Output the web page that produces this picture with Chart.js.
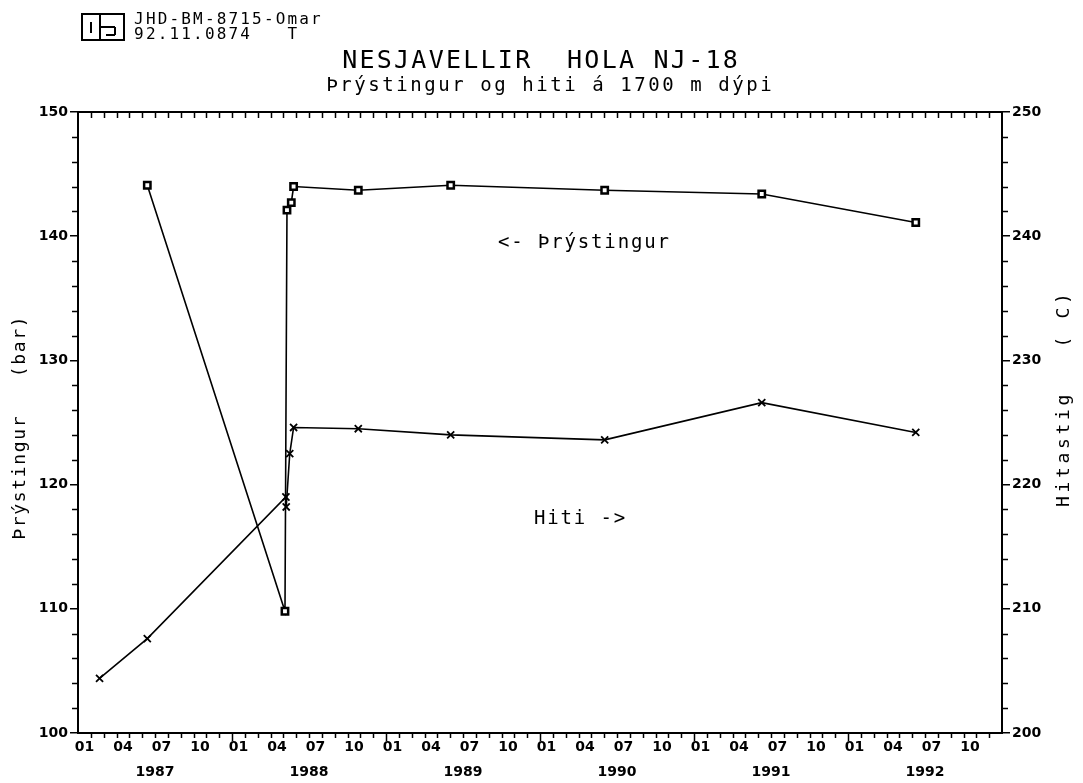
<!DOCTYPE html>
<html><head><meta charset="utf-8">
<script src="https://cdn.jsdelivr.net/npm/chart.js@4.4.1/dist/chart.umd.min.js"></script>
<style>html,body{margin:0;padding:0;background:#fff;}</style>
</head><body>
<canvas id="c" width="1083" height="783"></canvas>
<script>
// ---- data (decimal years) ----
const pressureDates  = [1987.45, 1988.344, 1988.357, 1988.385, 1988.40, 1988.82, 1989.42, 1990.42, 1991.44, 1992.44];
const pressureValues = [144.1,   109.8,    142.1,    142.7,    144.0,   143.7,   144.1,   143.7,   143.4,   141.1];
const tempDates  = [1987.14, 1987.45, 1988.35, 1988.352, 1988.375, 1988.40, 1988.82, 1989.42, 1990.42, 1991.44, 1992.44];
const tempValues = [204.4,   207.6,   219.0,   218.2,    222.5,    224.6,   224.5,   224.0,   223.6,   226.6,   224.2];
const leftTicks  = [100, 110, 120, 130, 140, 150];
const rightTicks = [200, 210, 220, 230, 240, 250];
const monthLabels = ['01', '04', '07', '10'];
const yearLabels  = ['1987', '1988', '1989', '1990', '1991', '1992'];
const titleText = 'NESJAVELLIR  HOLA NJ-18';
const subtitleText = 'Þrýstingur og hiti á 1700 m dýpi';
const headerLine1 = 'JHD-BM-8715-Omar';
const headerLine2 = '92.11.0874   T';
const leftAxisTitle = 'Þrýstingur   (bar)';
const rightAxisTitle = 'Hitastig   ( C)';
const pressureNote = '<- Þrýstingur';
const tempNote = 'Hiti ->';

const MONO = "'DejaVu Sans Mono', monospace";
const TICKFONT = "bold 14px 'DejaVu Sans', sans-serif";

function drawMono(ctx, text, x0, y, pitch, font) {
  ctx.font = font;
  ctx.textAlign = 'center';
  ctx.textBaseline = 'middle';
  Array.from(text).forEach((ch, i) => ctx.fillText(ch, x0 + (i + 0.5) * pitch, y));
}

const decor = {
  id: 'decor',
  beforeDraw(chart) {
    const ctx = chart.ctx;
    ctx.save(); ctx.fillStyle = '#fff'; ctx.fillRect(0, 0, chart.width, chart.height); ctx.restore();
  },
  afterDraw(chart) {
    const ctx = chart.ctx;
    const { left, right, top, bottom } = chart.chartArea;
    const xs = chart.scales.x, ys = chart.scales.y, ys2 = chart.scales.y2;
    ctx.save();
    ctx.strokeStyle = '#000'; ctx.fillStyle = '#000';
    // frame top & bottom
    ctx.lineWidth = 2;
    ctx.beginPath();
    ctx.moveTo(left - 1, top); ctx.lineTo(right + 1, top);
    ctx.moveTo(left - 1, bottom); ctx.lineTo(right + 1, bottom);
    ctx.stroke();
    // month ticks
    ctx.lineWidth = 1.5;
    ctx.beginPath();
    for (let m = 1; m < 72; m++) {
      const px = Math.round(xs.getPixelForValue(1987 + m / 12)) + 0.5;
      const len = (m % 12 === 0) ? 8 : 5;
      ctx.moveTo(px, bottom); ctx.lineTo(px, bottom + len);
      ctx.moveTo(px, top); ctx.lineTo(px, top + 6);
    }
    ctx.stroke();
    // minor y ticks
    ctx.beginPath();
    for (let v = 102; v < 150; v += 2) {
      if (v % 10 === 0) continue;
      const py = Math.round(ys.getPixelForValue(v)) + 0.5;
      ctx.moveTo(left - 6, py); ctx.lineTo(left, py);
    }
    for (let v = 202; v < 250; v += 2) {
      if (v % 10 === 0) continue;
      const py = Math.round(ys2.getPixelForValue(v)) + 0.5;
      ctx.moveTo(right, py); ctx.lineTo(right + 6, py);
    }
    ctx.stroke();
    // x labels
    ctx.font = TICKFONT; ctx.textAlign = 'center'; ctx.textBaseline = 'middle';
    yearLabels.forEach((yl, yi) => {
      const yr = 1987 + yi;
      monthLabels.forEach((ml, mi) => {
        ctx.fillText(ml, xs.getPixelForValue(yr + (mi * 3 + 0.5) / 12), bottom + 14);
      });
      ctx.fillText(yl, xs.getPixelForValue(yr + 0.5), bottom + 39);
    });
    // titles
    const tw = 17.3 * titleText.length;
    drawMono(ctx, titleText, 540 - tw / 2, 61, 17.3, '25px ' + MONO);
    const sw = 14 * subtitleText.length;
    drawMono(ctx, subtitleText, 549 - sw / 2, 86, 14, '19px ' + MONO);
    // header
    drawMono(ctx, headerLine1, 133, 20, 11.8, '16px ' + MONO);
    drawMono(ctx, headerLine2, 133, 35, 11.8, '16px ' + MONO);
    // logo
    ctx.lineWidth = 2;
    ctx.strokeRect(82, 14, 42, 26);
    ctx.beginPath();
    ctx.moveTo(100, 14); ctx.lineTo(100, 40);
    ctx.moveTo(91, 22); ctx.lineTo(91, 33);
    ctx.moveTo(100, 27); ctx.lineTo(115, 27);
    ctx.moveTo(115, 27); ctx.lineTo(115, 35);
    ctx.moveTo(115, 35); ctx.lineTo(106, 35);
    ctx.stroke();
    // in-plot notes
    drawMono(ctx, pressureNote, 497, 243, 13.3, '19px ' + MONO);
    drawMono(ctx, tempNote, 533, 519, 13.3, '19px ' + MONO);
    // axis titles
    ctx.save();
    ctx.translate(20, 428); ctx.rotate(-Math.PI / 2);
    drawMono(ctx, leftAxisTitle, -leftAxisTitle.length * 12.5 / 2, 0, 12.5, '18px ' + MONO);
    ctx.restore();
    ctx.save();
    ctx.translate(1064, 400); ctx.rotate(-Math.PI / 2);
    drawMono(ctx, rightAxisTitle, -rightAxisTitle.length * 14.5 / 2, 0, 14.5, '18px ' + MONO);
    ctx.restore();
    ctx.restore();
  }
};

const yCommon = {
  ticks: { color: '#000', font: { family: "'DejaVu Sans', sans-serif", size: 14, weight: 'bold' }, padding: 2 },
  grid: { drawOnChartArea: false, tickLength: 8, color: '#000', lineWidth: 1.5 },
  border: { color: '#000', width: 2 }
};

new Chart(document.getElementById('c'), {
  type: 'scatter',
  data: {
    datasets: [
      {
        label: 'Þrýstingur', yAxisID: 'y', showLine: true,
        data: pressureDates.map((d, i) => ({ x: d, y: pressureValues[i] })),
        borderColor: '#000', borderWidth: 1.6,
        pointStyle: 'rect', pointRadius: 4.5, pointBackgroundColor: '#fff',
        pointBorderColor: '#000', pointBorderWidth: 2.5
      },
      {
        label: 'Hiti', yAxisID: 'y2', showLine: true,
        data: tempDates.map((d, i) => ({ x: d, y: tempValues[i] })),
        borderColor: '#000', borderWidth: 1.6,
        pointStyle: 'crossRot', pointRadius: 5,
        pointBorderColor: '#000', pointBorderWidth: 1.8
      }
    ]
  },
  options: {
    responsive: false, animation: false, devicePixelRatio: 1,
    layout: { padding: { top: 112, bottom: 50, left: 0, right: 0 } },
    plugins: { legend: { display: false }, tooltip: { enabled: false }, title: { display: false } },
    scales: {
      x: { type: 'linear', min: 1987, max: 1993, display: false },
      y: Object.assign({}, yCommon, {
        position: 'left', min: 100, max: 150,
        afterBuildTicks: s => { s.ticks = leftTicks.map(v => ({ value: v })); },
        afterFit: s => { s.width = 78; }
      }),
      y2: Object.assign({}, yCommon, {
        position: 'right', min: 200, max: 250,
        afterBuildTicks: s => { s.ticks = rightTicks.map(v => ({ value: v })); },
        afterFit: s => { s.width = 81; }
      })
    }
  },
  plugins: [decor]
});
</script>
</body></html>
